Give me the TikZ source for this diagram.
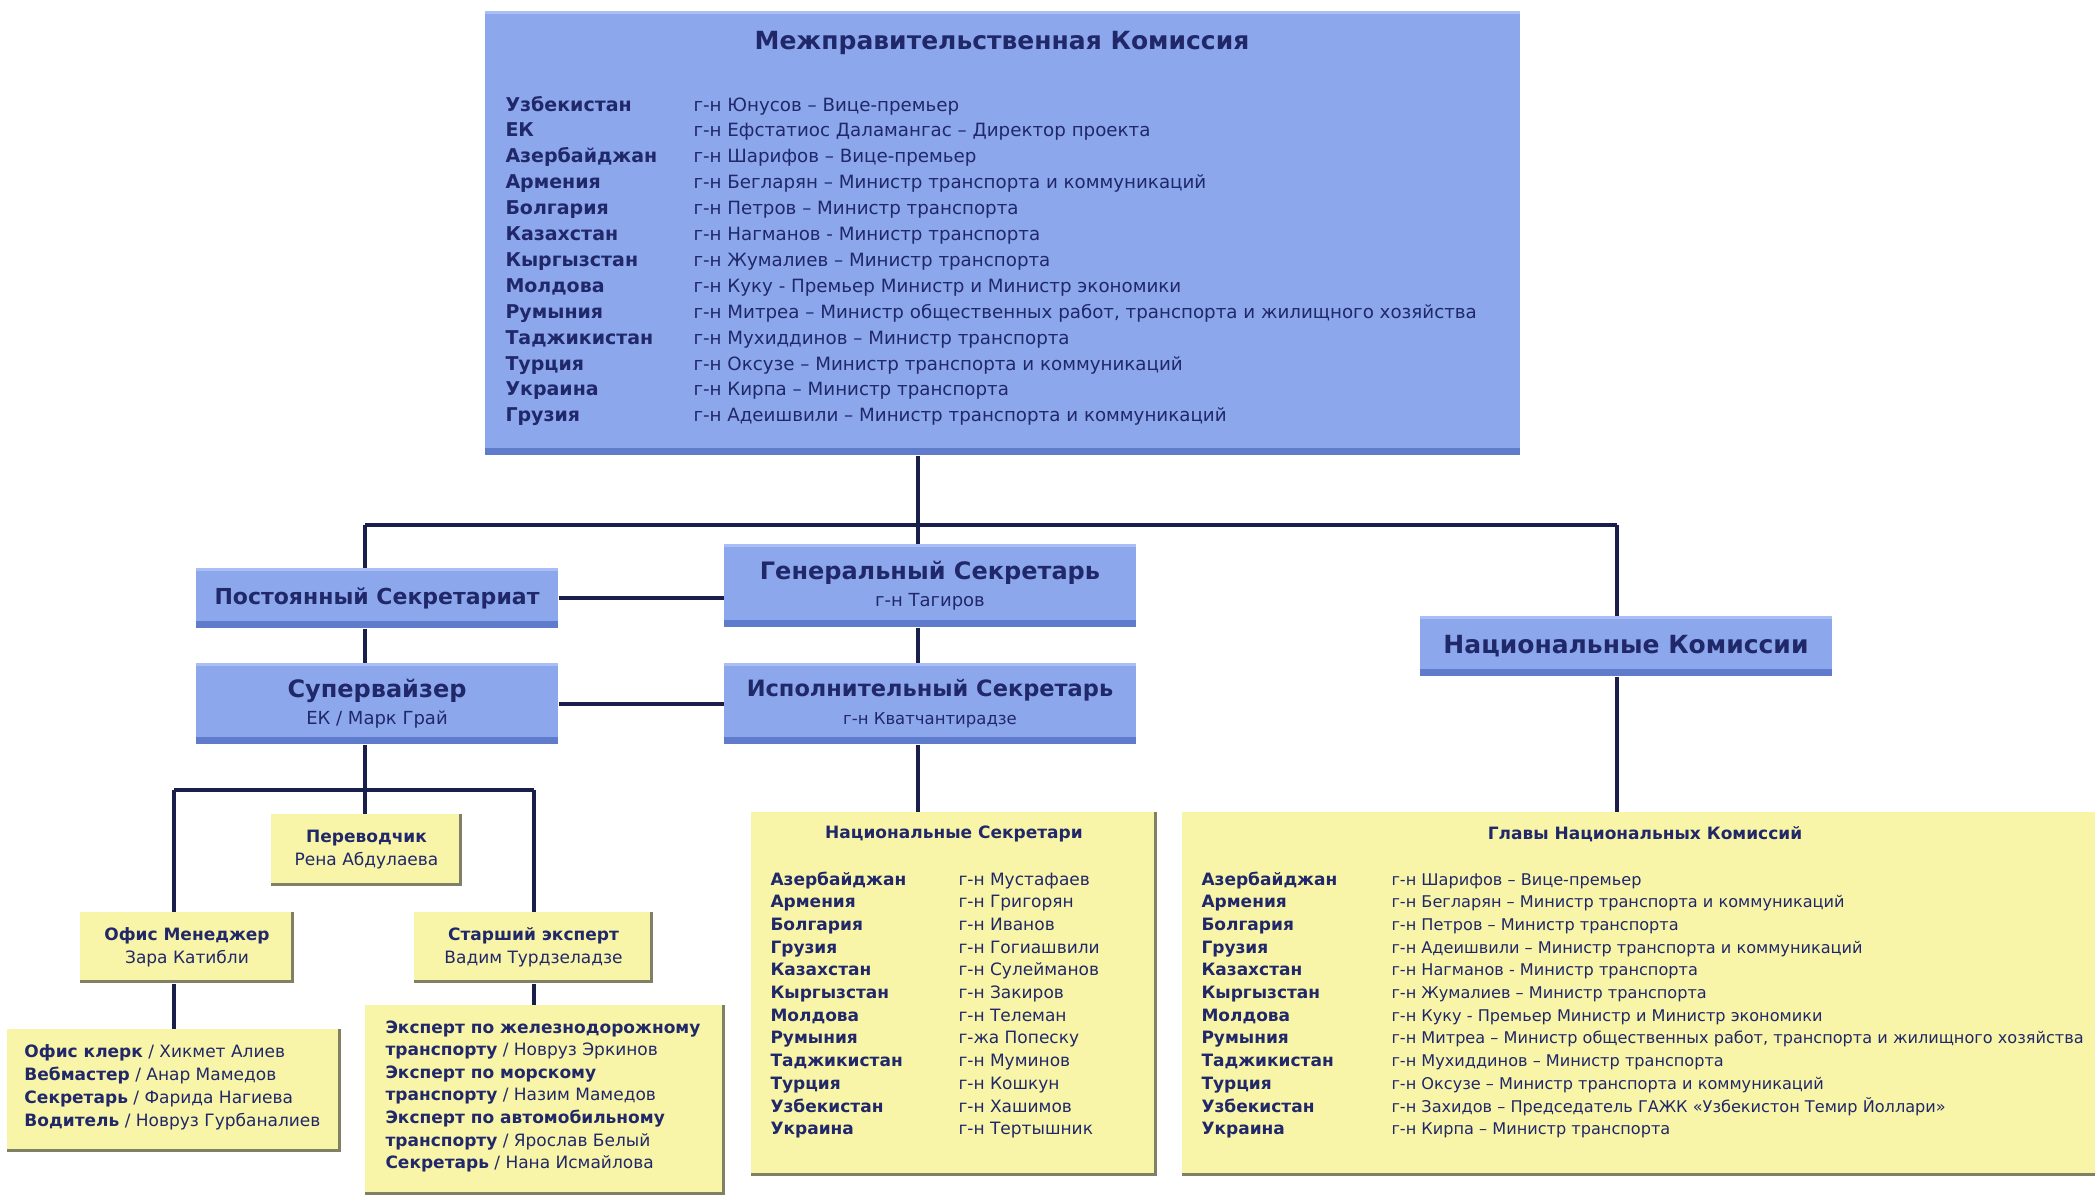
\documentclass[tikz,border=0pt]{standalone}
\usepackage{fontspec}
\setmainfont{DejaVu Sans}

\definecolor{boxblue}{RGB}{140,167,236}
\definecolor{boxblueshade}{RGB}{95,124,204}
\definecolor{boxbluelight}{RGB}{168,190,244}
\definecolor{boxyellow}{RGB}{249,245,168}
\definecolor{boxyellowedge}{RGB}{128,128,100}
\definecolor{navy}{RGB}{32,40,105}
\definecolor{linknavy}{RGB}{26,30,75}

\begin{document}
\begin{tikzpicture}[x=0.4pt,y=-0.4pt,
  link/.style={linknavy,line width=1.6pt},
  wh/.style 2 args={minimum width=#1*0.4pt,minimum height=#2*0.4pt},
  bluebox/.style={fill=boxblue,inner sep=0pt,text=navy,align=center,
    path picture={
      \fill[boxbluelight] (path picture bounding box.north west) rectangle ([yshift=-1.2pt]path picture bounding box.north east);
      \fill[boxblueshade] (path picture bounding box.south west) rectangle ([yshift=2.8pt]path picture bounding box.south east);}},
  yellowbox/.style={fill=boxyellow,inner sep=0pt,text=navy,align=center,
    font=\fontsize{6.8}{9.2}\selectfont,
    path picture={
      \fill[boxyellowedge] (path picture bounding box.south west) rectangle ([yshift=1.2pt]path picture bounding box.south east);
      \fill[boxyellowedge] ([xshift=-1.2pt]path picture bounding box.south east) rectangle (path picture bounding box.north east);}}]

\useasboundingbox (0,0) rectangle (2095,1195);
\fill [white] (0,0) rectangle (2095,1195);

% blue boxes
\node [bluebox,wh={1035}{444}] (comm) at (1002.5,233) {};
\node [bluebox,wh={362}{60},font=\bfseries\fontsize{8.8}{11}\selectfont] (perm) at (377,598) {Постоянный Секретариат};
\node [bluebox,wh={412}{83}] (gensec) at (930,585.5)
  {{\bfseries\fontsize{9.6}{11}\selectfont Генеральный Секретарь}\\[-1pt]{\fontsize{7.2}{9}\selectfont г-н Тагиров}};
\node [bluebox,wh={412}{81}] (execsec) at (930,703.5)
  {{\bfseries\fontsize{9}{11}\selectfont Исполнительный Секретарь}\\[-1pt]{\fontsize{6.6}{8}\selectfont г-н Кватчантирадзе}};
\node [bluebox,wh={362}{81}] (superv) at (377,703.5)
  {{\bfseries\fontsize{9.6}{11}\selectfont Супервайзер}\\[-1pt]{\fontsize{7.2}{9}\selectfont ЕК / Марк Грай}};
\node [bluebox,wh={412}{60},font=\bfseries\fontsize{10}{12}\selectfont] (natcomm) at (1626,646) {Национальные Комиссии};

% yellow boxes
\node [yellowbox,wh={191}{72}] (transl) at (366.5,850) {{\bfseries Переводчик}\\Рена Абдулаева};
\node [yellowbox,wh={214}{71}] (office) at (187,947.5) {{\bfseries Офис Менеджер}\\Зара Катибли};
\node [yellowbox,wh={239}{71}] (senior) at (533.5,947.5) {{\bfseries Старший эксперт}\\Вадим Турдзеладзе};
\node [yellowbox,wh={334}{123}] (staff) at (174,1090.5) {};
\node [yellowbox,wh={360}{190}] (experts) at (545,1100) {};
\node [yellowbox,wh={406}{364}] (natsec) at (954,994) {};
\node [yellowbox,wh={918}{364}] (heads) at (1641,994) {};

% connectors
\coordinate (bus) at (918,525);
\coordinate (busL) at (365,525);
\coordinate (busR) at (1617,525);
\coordinate (sub) at (365,790);
\coordinate (subL) at (174,790);
\coordinate (subR) at (534,790);

\draw [link] (busL) -- (busR);
\draw [link] (comm.south -| bus) -- (gensec.north -| bus);
\draw [link] (gensec.south -| bus) -- (execsec.north -| bus);
\draw [link] (execsec.south -| bus) -- (natsec.north -| bus);
\draw [link] (busL) -- (perm.north -| busL);
\draw [link] (perm.south -| busL) -- (superv.north -| busL);
\draw [link] (busR) -- (natcomm.north -| busR);
\draw [link] (natcomm.south -| busR) -- (heads.north -| busR);
\draw [link] (perm.east) -- (gensec.west |- perm.east);
\draw [link] (superv.east) -- (execsec.west);
\draw [link] (superv.south -| sub) -- (transl.north -| sub);
\draw [link] (subL) -- (subR);
\draw [link] (subL) -- (office.north -| subL);
\draw [link] (subR) -- (senior.north -| subR);
\draw [link] (office.south -| subL) -- (staff.north -| subL);
\draw [link] (senior.south -| subR) -- (experts.north -| subR);

\begin{scope}[every node/.style={inner sep=0pt,text=navy,anchor=base west}]

\node [anchor=center,font=\bfseries\fontsize{10}{12}\selectfont] (commtitle) at (1002,43) {Межправительственная Комиссия};

\foreach \cc/\pp [count=\i] in {
  Узбекистан/{г-н Юнусов – Вице-премьер},
  ЕК/{г-н Ефстатиос Даламангас – Директор проекта},
  Азербайджан/{г-н Шарифов – Вице-премьер},
  Армения/{г-н Бегларян – Министр транспорта и коммуникаций},
  Болгария/{г-н Петров – Министр транспорта},
  Казахстан/{г-н Нагманов - Министр транспорта},
  Кыргызстан/{г-н Жумалиев – Министр транспорта},
  Молдова/{г-н Куку - Премьер Министр и Министр экономики},
  Румыния/{г-н Митреа – Министр общественных работ, транспорта и жилищного хозяйства},
  Таджикистан/{г-н Мухиддинов – Министр транспорта},
  Турция/{г-н Оксузе – Министр транспорта и коммуникаций},
  Украина/{г-н Кирпа – Министр транспорта},
  Грузия/{г-н Адеишвили – Министр транспорта и коммуникаций}}
{
  \node [font=\bfseries\fontsize{7.6}{9}\selectfont] (cc\i) at (505,{111+25.9*(\i-1)}) {\cc};
  \node [font=\fontsize{7.3}{9}\selectfont] (cp\i) at (693,{111+25.9*(\i-1)}) {\pp};
}

\node [anchor=center,font=\bfseries\fontsize{6.8}{9}\selectfont] (natsectitle) at (954,834) {Национальные Секретари};

\foreach \cc/\pp [count=\i] in {
  Азербайджан/г-н Мустафаев, Армения/г-н Григорян, Болгария/г-н Иванов,
  Грузия/г-н Гогиашвили, Казахстан/г-н Сулейманов, Кыргызстан/г-н Закиров,
  Молдова/г-н Телеман, Румыния/г-жа Попеску, Таджикистан/г-н Муминов,
  Турция/г-н Кошкун, Узбекистан/г-н Хашимов, Украина/г-н Тертышник}
{
  \node [font=\bfseries\fontsize{6.8}{9}\selectfont] (sc\i) at (770,{885+22.7*(\i-1)}) {\cc};
  \node [font=\fontsize{6.8}{9}\selectfont] (sp\i) at (958,{885+22.7*(\i-1)}) {\pp};
}

\node [anchor=center,font=\bfseries\fontsize{6.8}{9}\selectfont] (headstitle) at (1645,834) {Главы Национальных Комиссий};

\foreach \cc/\pp [count=\i] in {
  Азербайджан/{г-н Шарифов – Вице-премьер},
  Армения/{г-н Бегларян – Министр транспорта и коммуникаций},
  Болгария/{г-н Петров – Министр транспорта},
  Грузия/{г-н Адеишвили – Министр транспорта и коммуникаций},
  Казахстан/{г-н Нагманов - Министр транспорта},
  Кыргызстан/{г-н Жумалиев – Министр транспорта},
  Молдова/{г-н Куку - Премьер Министр и Министр экономики},
  Румыния/{г-н Митреа – Министр общественных работ, транспорта и жилищного хозяйства},
  Таджикистан/{г-н Мухиддинов – Министр транспорта},
  Турция/{г-н Оксузе – Министр транспорта и коммуникаций},
  Узбекистан/{г-н Захидов – Председатель ГАЖК «Узбекистон Темир Йоллари»},
  Украина/{г-н Кирпа – Министр транспорта}}
{
  \node [font=\bfseries\fontsize{6.8}{9}\selectfont] (hc\i) at (1201,{885+22.7*(\i-1)}) {\cc};
  \node [font=\fontsize{6.45}{9}\selectfont] (hp\i) at (1391,{885+22.7*(\i-1)}) {\pp};
}

\foreach \t [count=\i] in {
  {\textbf{Офис клерк} / Хикмет Алиев},
  {\textbf{Вебмастер} / Анар Мамедов},
  {\textbf{Секретарь} / Фарида Нагиева},
  {\textbf{Водитель} / Новруз Гурбаналиев}}
  \node [font=\fontsize{6.8}{9}\selectfont] (st\i) at (24,{1057+23*(\i-1)}) {\t};

\foreach \t [count=\i] in {
  {\textbf{Эксперт по железнодорожному}},
  {\textbf{транспорту} / Новруз Эркинов},
  {\textbf{Эксперт по морскому}},
  {\textbf{транспорту} / Назим Мамедов},
  {\textbf{Эксперт по автомобильному}},
  {\textbf{транспорту} / Ярослав Белый},
  {\textbf{Секретарь} / Нана Исмайлова}}
  \node [font=\fontsize{6.8}{9}\selectfont] (ex\i) at (385,{1033+22.6*(\i-1)}) {\t};

\end{scope}
\end{tikzpicture}
\end{document}
